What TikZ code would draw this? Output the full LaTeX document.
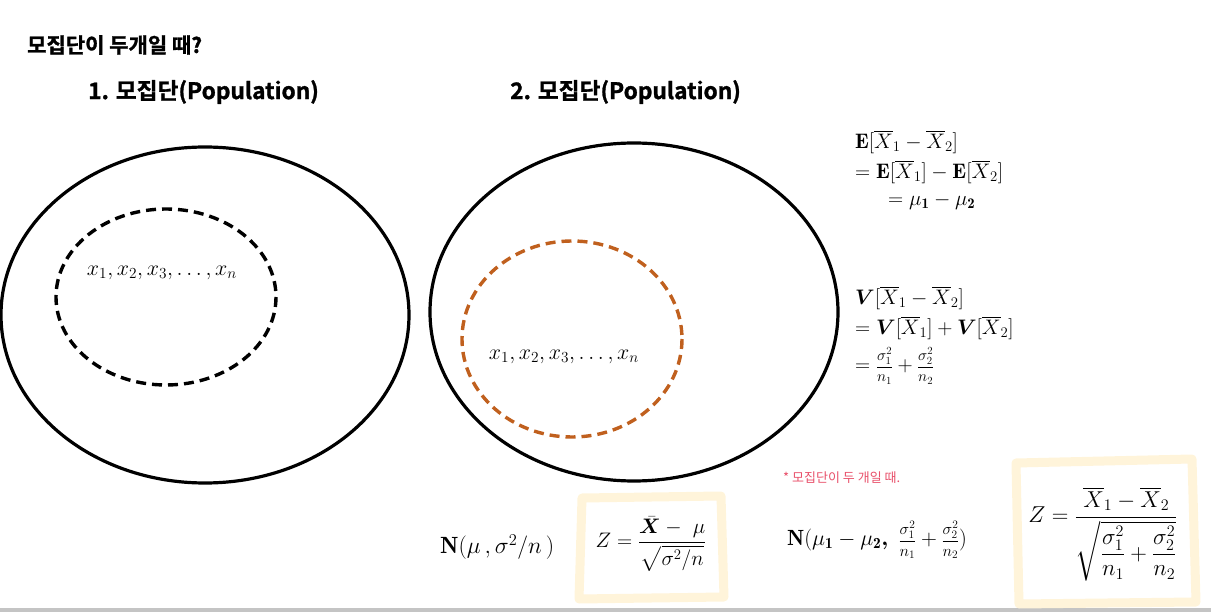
\RequirePackage{fix-cm}
\documentclass[tikz,border=0pt]{standalone}
\usepackage{amsmath,bm}
\usepackage{fontspec}
\newfontfamily\krbold[FakeBold=1.3]{Noto Sans CJK KR Bold}
\newfontfamily\kr{Noto Sans CJK KR}
\definecolor{burnt}{HTML}{C0601E}
\definecolor{hl}{HTML}{FFF4DA}
\definecolor{redpen}{HTML}{E8506A}
\definecolor{barg}{HTML}{C4C4C4}
\newcommand{\ffrac}[2]{\vcenter{\hbox{\scalebox{0.74}{$\dfrac{#1}{#2}$}}}}
\begin{document}
\begin{tikzpicture}[x=1pt,y=-1pt,
  title/.style={anchor=west,font=\krbold\fontsize{21}{24}\selectfont,inner sep=0},
  head/.style={anchor=west,font=\krbold\fontsize{22.7}{26}\selectfont,inner sep=0},
  outer/.style={line width=3.2pt,draw=black},
  inner/.style={line width=3.4pt,dash pattern=on 10pt off 6pt},
  mathtxt/.style={font=\fontsize{19}{23}\selectfont,inner sep=0},
  eq/.style={anchor=west,font=\fontsize{21}{25}\selectfont,inner sep=0},
  hlbox/.style={draw=hl,line width=9pt,line join=round,fill=white}]
\useasboundingbox (0,0) rectangle (1211,612);
\fill[barg] (0,608) rectangle (1211,612);

\node[title] (t) at (27,45) {모집단이 두개일 때?};
\node[head] (h1) at (88,92) {1. 모집단(Population)};
\node[head] (h2) at (510,92) {2. 모집단(Population)};

% population 1
\draw[outer] (205,315) ellipse [x radius=204, y radius=168];
\draw[inner,black] (166,297) ellipse [x radius=110, y radius=88];
\node[mathtxt] (s1) at (162,273) {\resizebox{150pt}{!}{$x_1,x_2,x_3,\ldots,x_n$}};

% population 2
\draw[outer] (634,312) ellipse [x radius=204, y radius=169];
\draw[inner,burnt] (572,339) ellipse [x radius=110, y radius=98];
\node[mathtxt] (s2) at (564,357) {\resizebox{150pt}{!}{$x_1,x_2,x_3,\ldots,x_n$}};

% right formulas
\node[eq] (e1) at (855,142) {$\mathbf{E}[\overline{X}_1-\overline{X}_2]$};
\node[eq] (e2) at (855,172) {$=\mathbf{E}[\overline{X}_1]-\mathbf{E}[\overline{X}_2]$};
\node[eq] (e3) at (888,201) {$=\mu_{\mathbf 1}-\mu_{\mathbf 2}$};
\node[eq] (v1) at (855,298) {$\bm{V}[\overline{X}_1-\overline{X}_2]$};
\node[eq] (v2) at (855,328) {$=\bm{V}[\overline{X}_1]+\bm{V}[\overline{X}_2]$};
\node[eq] (v3) at (855,366) {$=\ffrac{\sigma_1^2}{n_1}+\ffrac{\sigma_2^2}{n_2}$};

% bottom
\node[eq,font=\fontsize{23.5}{27}\selectfont] (n1) at (440,547) {$\mathbf{N}(\mu\,,\sigma^2/n\,)$};
\draw[hlbox] (582,498) -- (721,496) -- (724,597) -- (579,599) -- cycle;
\node[eq,anchor=center] (z1) at (651,544) {$Z=\dfrac{\bar{\bm X}-\ \mu}{\sqrt{\sigma^2/n}}$};

\node[font=\kr\fontsize{13}{15}\selectfont,text=redpen,anchor=west,inner sep=0] (note) at (783,478) {* 모집단이 두 개일 때.};
\node[eq,font=\fontsize{22}{26}\selectfont] (n2) at (787,540) {$\mathbf{N}(\mu_{\mathbf 1}-\mu_{\mathbf 2}\bm{,}\ \ffrac{\sigma_1^2}{n_1}+\ffrac{\sigma_2^2}{n_2})$};
\draw[hlbox] (1016,463) -- (1192,459) -- (1196,602) -- (1019,604) -- cycle;
\node[eq,anchor=center,font=\fontsize{23}{27}\selectfont] (z2) at (1103,534) {$Z=\dfrac{\overline{X}_1-\overline{X}_2}{\sqrt{\dfrac{\sigma_1^2}{n_1}+\dfrac{\sigma_2^2}{n_2}}}$};
\end{tikzpicture}
\end{document}
